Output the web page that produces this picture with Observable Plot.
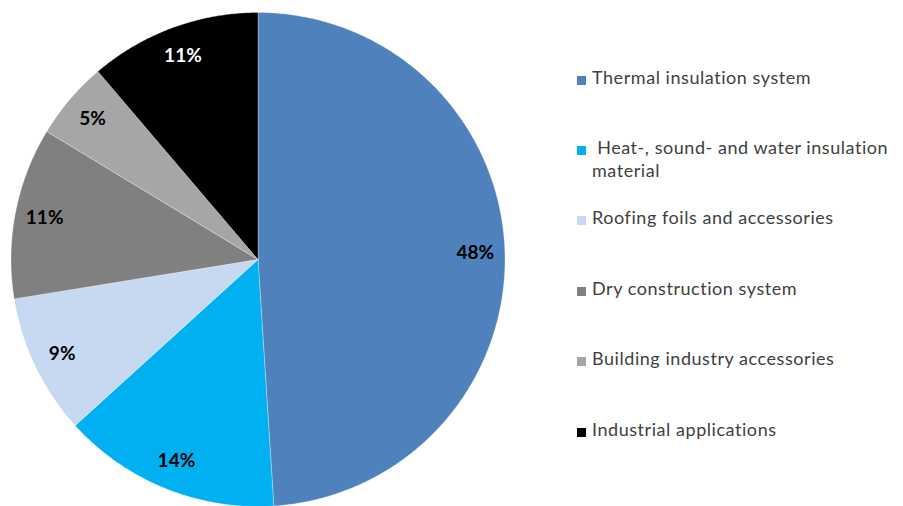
<!DOCTYPE html>
<html>
<head>
<meta charset="utf-8">
<script src="https://cdn.jsdelivr.net/npm/d3@7"></script>
<script src="https://cdn.jsdelivr.net/npm/@observablehq/plot@0.6"></script>
<style>
  html, body { margin: 0; padding: 0; background: #ffffff; }
  #wrap { position: relative; width: 903px; height: 506px; overflow: hidden; }
  #legend { position: absolute; left: 0; top: 0; width: 903px; height: 506px; font-family: Lato, "DejaVu Sans", sans-serif; font-size: 18px; letter-spacing: 0.55px; color: #404040; pointer-events: none; }
  .sw { position: absolute; width: 9px; height: 9px; }
  .lt { position: absolute; line-height: 23px; white-space: normal; }
</style>
</head>
<body>
<div id="wrap"><div id="chart"></div><div id="legend"></div></div>
<script>
// ---- data ----
const categories = [
  "Thermal insulation system",
  " Heat-, sound- and water insulation material",
  "Roofing foils and accessories",
  "Dry construction system",
  "Building industry accessories",
  "Industrial applications"
];
const values = [48, 14, 9, 11, 5, 11];
const labels = ["48%", "14%", "9%", "11%", "5%", "11%"];
const colors = ["#4F81BD", "#00B0F0", "#C6D9F1", "#808080", "#A6A6A6", "#000000"];
const labelColors = ["#000000", "#000000", "#000000", "#000000", "#000000", "#ffffff"];

// ---- layout ----
const W = 903, H = 506;
const cx = 257.5, cy = 259, R = 247;
const labelRadius = 0.88;

const rows = categories.map((c, i) => ({category: c, value: values[i], label: labels[i], color: colors[i], labelColor: labelColors[i]}));
const arcs = d3.pie().sort(null).value(d => d.value)(rows);

// slice outlines in unit coordinates, built from the pie angles
const slices = arcs.map(a => {
  const n = Math.max(4, Math.ceil((a.endAngle - a.startAngle) / (Math.PI / 360)));
  const pts = [{x: 0, y: 0}];
  for (let k = 0; k <= n; k++) {
    const t = a.startAngle + (a.endAngle - a.startAngle) * k / n;
    pts.push({x: Math.sin(t), y: Math.cos(t)});
  }
  pts.push({x: 0, y: 0});
  return {pts, color: a.data.color};
});

const labelPts = arcs.map(a => {
  const m = (a.startAngle + a.endAngle) / 2;
  return {x: labelRadius * Math.sin(m), y: labelRadius * Math.cos(m), text: a.data.label, fill: a.data.labelColor};
});

const chart = Plot.plot({
  width: W,
  height: H,
  style: {fontFamily: "Lato, 'DejaVu Sans', sans-serif", background: "#ffffff"},
  x: {domain: [-1, 1], range: [cx - R, cx + R], axis: null},
  y: {domain: [-1, 1], range: [cy + R, cy - R], axis: null},
  marks: [
    ...slices.map(s => Plot.line(s.pts, {x: "x", y: "y", fill: s.color, stroke: "#ffffff", strokeWidth: 0.5, strokeOpacity: 0.6})),
    Plot.text(labelPts, {x: "x", y: "y", text: "text", fill: d => d.fill, fontSize: 19, fontWeight: "bold"})
  ]
});
document.getElementById("chart").appendChild(chart);

// ---- legend (right side) ----
const legend = document.getElementById("legend");
const firstBaseline = 84, step = 70.4, swX = 577, textX = 592, textW = 311;
rows.forEach((d, i) => {
  const base = firstBaseline + i * step;
  const sw = document.createElement("div");
  sw.className = "sw";
  sw.style.left = swX + "px";
  sw.style.top = (base - 8.5) + "px";
  sw.style.background = d.color;
  legend.appendChild(sw);
  const t = document.createElement("div");
  t.className = "lt";
  t.style.left = textX + "px";
  t.style.top = (base - 18.5) + "px";
  t.style.width = textW + "px";
  t.style.whiteSpace = "pre-wrap";
  t.textContent = d.category;
  legend.appendChild(t);
});
</script>
</body>
</html>
